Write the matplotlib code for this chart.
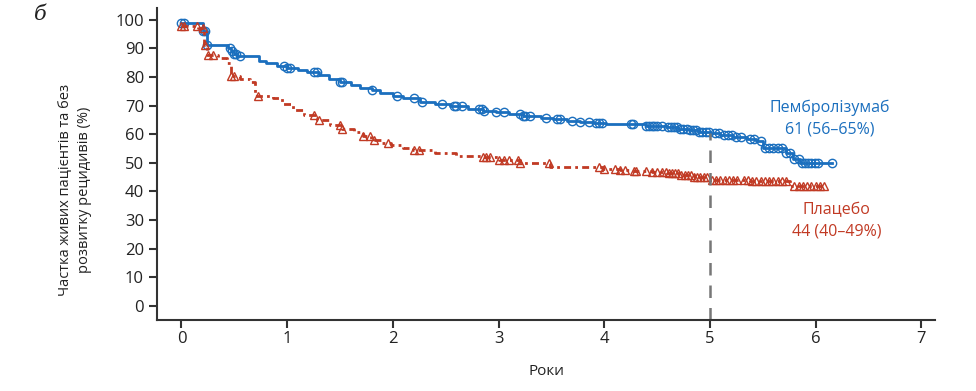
import numpy as np
import matplotlib
matplotlib.use("Agg")
import matplotlib.pyplot as plt

# --- дані ---
# Пембролізумаб: час (роки) / частка (%)
pembro_t = [0.0, 0.2, 0.24, 0.44, 0.47, 0.5, 0.53, 0.73, 0.8, 0.9, 1.0, 1.1, 1.19, 1.3,
            1.4, 1.5, 1.6, 1.69, 1.8, 1.88, 2.0, 2.1, 2.26, 2.4, 2.54, 2.71, 2.85, 2.98,
            3.1, 3.23, 3.4, 3.52, 3.65, 3.77, 3.9, 4.02, 4.4, 4.59, 4.7, 4.8, 4.9, 5.0,
            5.1, 5.22, 5.35, 5.44, 5.5, 5.72, 5.79, 5.85, 6.16]
pembro_s = [99, 96, 91.3, 90, 89, 88, 87.2, 85.5, 84.8, 83.8, 83.3, 82.3, 81.6, 80.6,
            79.2, 78.4, 77.3, 76.2, 75.5, 74.4, 73.5, 72.6, 71.4, 70.5, 69.7, 68.9, 68.2, 67.6,
            67.0, 66.4, 65.8, 65.3, 64.8, 64.3, 63.9, 63.6, 63.0, 62.7, 62.0, 61.4, 60.9, 60.4,
            59.8, 59.2, 58.4, 57.5, 55.2, 53.4, 51.3, 49.9, 49.9]
pembro_cens = [0.0, 0.02, 0.2, 0.22, 0.24, 0.46, 0.48, 0.5, 0.52, 0.55, 0.97, 1.0, 1.03,
               1.25, 1.28, 1.5, 1.52, 1.8, 2.04, 2.2, 2.28, 2.47, 2.58, 2.6, 2.65, 2.82,
               2.84, 2.86, 2.98, 3.05, 3.2, 3.23, 3.25, 3.3, 3.45, 3.55, 3.58, 3.7, 3.77,
               3.86, 3.92, 3.95, 3.98, 4.25, 4.27, 4.4, 4.42, 4.45, 4.47, 4.5, 4.55, 4.6,
               4.63, 4.66, 4.69, 4.72, 4.75, 4.78, 4.81, 4.84, 4.87, 4.9, 4.93, 4.96, 4.99,
               5.05, 5.09, 5.13, 5.17, 5.21, 5.25, 5.29, 5.38, 5.42, 5.48, 5.52, 5.56, 5.6,
               5.64, 5.68, 5.72, 5.76, 5.8, 5.84, 5.87, 5.9, 5.93, 5.96, 5.99, 6.02, 6.16]

# Плацебо
plac_t = [0.0, 0.16, 0.21, 0.24, 0.35, 0.43, 0.47, 0.55, 0.65, 0.70, 0.87, 0.95, 1.06,
          1.16, 1.28, 1.41, 1.52, 1.63, 1.72, 1.79, 1.9, 1.98, 2.1, 2.19, 2.4, 2.6, 2.83,
          3.0, 3.2, 3.49, 3.99, 4.15, 4.27, 4.45, 4.59, 4.72, 4.85, 5.0, 5.38, 5.76, 6.1]
plac_s = [98, 97, 91.3, 87.8, 86.5, 84.9, 80.2, 79.2, 78.4, 73.4, 72.6, 70.5, 68.5,
          66.8, 65, 63.3, 62, 60.9, 59.5, 58, 57, 56.3, 55.3, 54.5, 53.5, 52.5, 51.9,
          51, 49.9, 48.5, 47.8, 47.5, 47.3, 46.8, 46.4, 45.8, 45.2, 44.1, 43.5, 42, 42]
plac_cens = [0.0, 0.02, 0.15, 0.2, 0.22, 0.25, 0.3, 0.47, 0.5, 0.72, 1.25, 1.3, 1.5, 1.52,
             1.72, 1.78, 1.82, 1.95, 2.2, 2.25, 2.85, 2.88, 2.92, 3.0, 3.05, 3.1, 3.18,
             3.2, 3.48, 3.95, 4.0, 4.1, 4.15, 4.2, 4.28, 4.3, 4.4, 4.45, 4.5, 4.55, 4.58,
             4.61, 4.64, 4.67, 4.7, 4.73, 4.76, 4.79, 4.82, 4.85, 4.88, 4.91, 4.94, 4.97,
             5.02, 5.06, 5.1, 5.14, 5.18, 5.22, 5.26, 5.32, 5.36, 5.4, 5.44, 5.48, 5.52,
             5.56, 5.6, 5.64, 5.68, 5.72, 5.8, 5.84, 5.88, 5.92, 5.96, 6.0, 6.04, 6.08]

x_ticks = [0, 1, 2, 3, 4, 5, 6, 7]
y_ticks = [0, 10, 20, 30, 40, 50, 60, 70, 80, 90, 100]

BLUE = "#1b6fbe"
RED = "#c13a24"
plt.rcParams['font.family'] = ['Open Sans', 'DejaVu Sans']


def step_value(t, times, surv):
    i = np.searchsorted(times, t, side='right') - 1
    return np.array(surv)[np.clip(i, 0, len(surv) - 1)]


fig = plt.figure(figsize=(9.76, 3.91), dpi=100)
ax = fig.add_axes([0.161, 0.182, 0.797, 0.798])

ax.step(pembro_t, pembro_s, where='post', color=BLUE, lw=2.0)
ax.plot(pembro_cens, step_value(pembro_cens, pembro_t, pembro_s), 'o', ms=6,
        mfc='none', mec=BLUE, mew=1.0)

ax.step(plac_t, plac_s, where='post', color=RED, lw=2.0, dashes=(2.5, 1.5, 1, 1.5))
ax.plot(plac_cens, step_value(plac_cens, plac_t, plac_s), '^', ms=6,
        mfc='none', mec=RED, mew=1.0)

ax.plot([5, 5], [-4.9, 60.4], color='#777777', lw=1.8, dashes=(5, 4))

ax.set_xlim(-0.23, 7.13)
ax.set_ylim(-4.9, 104.2)
ax.set_xticks(x_ticks)
ax.set_yticks(y_ticks)
for s in ['top', 'right']:
    ax.spines[s].set_visible(False)
for s in ['left', 'bottom']:
    ax.spines[s].set_linewidth(1.5)
    ax.spines[s].set_color('#333333')
ax.tick_params(length=6, width=1.5, color='#333333', labelsize=12, labelcolor='#222222')
ax.tick_params(axis='x', pad=2)
ax.set_xlabel("Роки", fontsize=11, labelpad=12, color='#222222')

fig.text(75 / 976, 1 - 190 / 391, "Частка живих пацієнтів та без\nрозвитку рецидивів (%)",
         rotation=90, ha='center', va='center', fontsize=10.5, color='#222222',
         linespacing=1.3)
fig.text(40 / 976, 1 - 15 / 391, "б", fontsize=15, style='italic', family='DejaVu Serif',
         ha='center', va='center', color='#222222')

ax.text(6.13, 65.4, "Пембролізумаб\n61 (56–65%)", color=BLUE, fontsize=11.5,
        ha='center', va='center', linespacing=1.45)
ax.text(6.2, 29.7, "Плацебо\n44 (40–49%)", color=RED, fontsize=11.5,
        ha='center', va='center', linespacing=1.45)

fig.savefig("out.png", dpi=100)
